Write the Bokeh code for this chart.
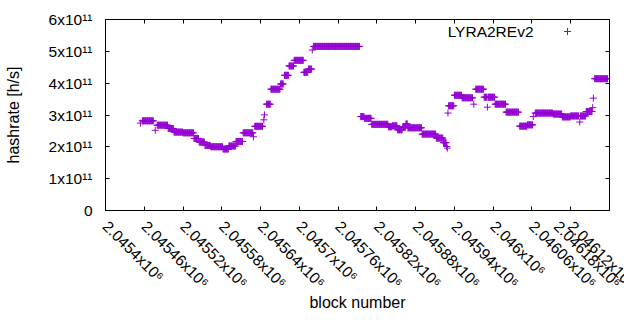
from bokeh.plotting import figure
from bokeh.models import Range1d, FixedTicker, LinearAxis, Label, Legend, LegendItem, ColumnDataSource
from bokeh.embed import file_html
from bokeh.resources import INLINE

# runs of consecutive blocks sharing (approximately) the same hashrate
seg_first = [2045454, 2045457, 2045477, 2045480, 2045497, 2045506, 2045520, 2045537, 2045545, 2045554,
             2045563, 2045582, 2045591, 2045602, 2045613, 2045629, 2045631, 2045645, 2045646, 2045649,
             2045656, 2045671, 2045677, 2045684, 2045692, 2045707, 2045714, 2045720, 2045722, 2045795,
             2045801, 2045812, 2045838, 2045844, 2045852, 2045860, 2045865, 2045868, 2045890, 2045912,
             2045923, 2045928, 2045929, 2045930, 2045931, 2045940, 2045952, 2045970, 2045973, 2045986,
             2045991, 2045992, 2046003, 2046020, 2046041, 2046053, 2046062, 2046065, 2046093, 2046107,
             2046120, 2046134, 2046135, 2046144, 2046154, 2046155, 2046157]
seg_last = [2045454, 2045474, 2045477, 2045496, 2045505, 2045519, 2045536, 2045544, 2045553, 2045562,
            2045581, 2045590, 2045601, 2045612, 2045628, 2045629, 2045643, 2045645, 2045646, 2045655,
            2045670, 2045675, 2045683, 2045691, 2045706, 2045713, 2045719, 2045720, 2045793, 2045800,
            2045811, 2045837, 2045843, 2045851, 2045859, 2045864, 2045867, 2045889, 2045911, 2045922,
            2045927, 2045928, 2045929, 2045930, 2045939, 2045951, 2045968, 2045970, 2045985, 2045990,
            2045991, 2046002, 2046019, 2046039, 2046052, 2046061, 2046062, 2046092, 2046106, 2046119,
            2046132, 2046134, 2046143, 2046153, 2046154, 2046155, 2046177]
seg_hashrate = [2.745e11, 2.817e11, 2.52e11, 2.68e11, 2.576e11, 2.463e11, 2.44e11, 2.263e11, 2.15e11, 2.044e11,
                2.003e11, 1.931e11, 2.025e11, 2.169e11, 2.44e11, 2.316e11, 2.645e11, 2.848e11, 3.005e11, 3.34e11,
                3.81e11, 3.975e11, 4.247e11, 4.54e11, 4.717e11, 4.341e11, 4.444e11, 5.04e11, 5.155e11, 2.95e11,
                2.895e11, 2.707e11, 2.63e11, 2.66e11, 2.535e11, 2.62e11, 2.72e11, 2.598e11, 2.40e11, 2.275e11,
                2.13e11, 2.01e11, 1.96e11, 3.06e11, 3.29e11, 3.62e11, 3.54e11, 3.34e11, 3.81e11, 3.56e11,
                3.246e11, 3.56e11, 3.34e11, 3.09e11, 2.65e11, 2.69e11, 2.95e11, 3.06e11, 3.03e11, 2.94e11,
                2.97e11, 2.78e11, 2.97e11, 3.11e11, 3.23e11, 3.53e11, 4.14e11]

x_ticks = [2045400, 2045460, 2045520, 2045580, 2045640, 2045700, 2045760,
           2045820, 2045880, 2045940, 2046000, 2046060, 2046120, 2046180]
x_tick_labels = ["2.0454x10⁶", "2.04546x10⁶", "2.04552x10⁶", "2.04558x10⁶", "2.04564x10⁶",
                 "2.0457x10⁶", "2.04576x10⁶", "2.04582x10⁶", "2.04588x10⁶", "2.04594x10⁶",
                 "2.046x10⁶", "2.04606x10⁶", "2.04612x10⁶", "2.04618x10⁶"]
y_ticks = [0, 1e11, 2e11, 3e11, 4e11, 5e11, 6e11]
y_tick_labels = ["0", "1x10¹¹", "2x10¹¹", "3x10¹¹", "4x10¹¹", "5x10¹¹", "6x10¹¹"]

series_name = "LYRA2REv2"
x_title = "block number"
y_title = "hashrate [h/s]"

blocks, rates = [], []
for f, l, v in zip(seg_first, seg_last, seg_hashrate):
    for b in range(f, l + 1):
        blocks.append(b)
        rates.append(v)

FONT = "Liberation Sans"
FS = "15.5px"
FS_TITLE = "16px"
PURPLE = "#9400D3"

p = figure(width=624, height=314, output_backend="svg", toolbar_location=None,
           x_range=Range1d(x_ticks[0], x_ticks[-1]), y_range=Range1d(y_ticks[0], y_ticks[-1]),
           min_border_left=105, min_border_right=15, min_border_top=19, min_border_bottom=103,
           x_axis_label=x_title, y_axis_label=y_title)
p.xgrid.visible = False
p.ygrid.visible = False
p.outline_line_color = "black"
p.outline_line_width = 1
p.outline_line_alpha = 1
p.background_fill_color = "white"
p.border_fill_color = "white"

src = ColumnDataSource(dict(block=blocks, rate=rates))
r = p.scatter("block", "rate", source=src, marker="cross", size=7,
              line_color=PURPLE, line_width=1)

def style(ax, ticks, labels=None):
    ax.ticker = FixedTicker(ticks=ticks)
    ax.major_tick_in = 4
    ax.major_tick_out = 0
    ax.minor_tick_in = 0
    ax.minor_tick_out = 0
    ax.major_tick_line_color = "black"
    ax.axis_line_color = "black"
    ax.major_label_text_font = FONT
    ax.major_label_text_font_size = FS
    ax.major_label_text_color = "black"
    ax.axis_label_text_font = FONT
    ax.axis_label_text_font_size = FS_TITLE
    ax.axis_label_text_font_style = "normal"
    ax.axis_label_text_color = "black"
    if labels is not None:
        ax.major_label_overrides = {t: s for t, s in zip(ticks, labels)}

xa = p.xaxis[0]
style(xa, x_ticks, x_tick_labels)
xa.major_label_orientation = -0.7853981633974483
xa.major_label_standoff = 13
xa.axis_label_standoff = -6

ya = p.yaxis[0]
style(ya, y_ticks, y_tick_labels)
ya.major_label_standoff = 13
ya.axis_label_standoff = 24

# mirrored tick marks on the top and right sides (no labels)
top = LinearAxis()
style(top, x_ticks)
top.major_label_text_font_size = "0px"
top.major_label_text_color = None
top.major_label_standoff = 0
p.add_layout(top, "above")

right = LinearAxis()
style(right, y_ticks)
right.major_label_text_font_size = "0px"
right.major_label_text_color = None
right.major_label_standoff = 0
p.add_layout(right, "right")

# key: title on the left, sample on the right (gnuplot style)
p.add_layout(Label(x=428, y=179, x_units="screen", y_units="screen", text=series_name,
                   text_align="right", text_baseline="middle", text_font=FONT,
                   text_font_size=FS, text_color="black"))

legend = Legend(items=[LegendItem(label=" ", renderers=[r])], location=(453, 170),
                glyph_width=18, glyph_height=18, label_standoff=0, label_width=0, label_height=0,
                padding=0, spacing=0, margin=0, border_line_color=None,
                background_fill_alpha=0, label_text_font_size="1px")
p.add_layout(legend)

open("out.html", "w").write(file_html(p, INLINE))
